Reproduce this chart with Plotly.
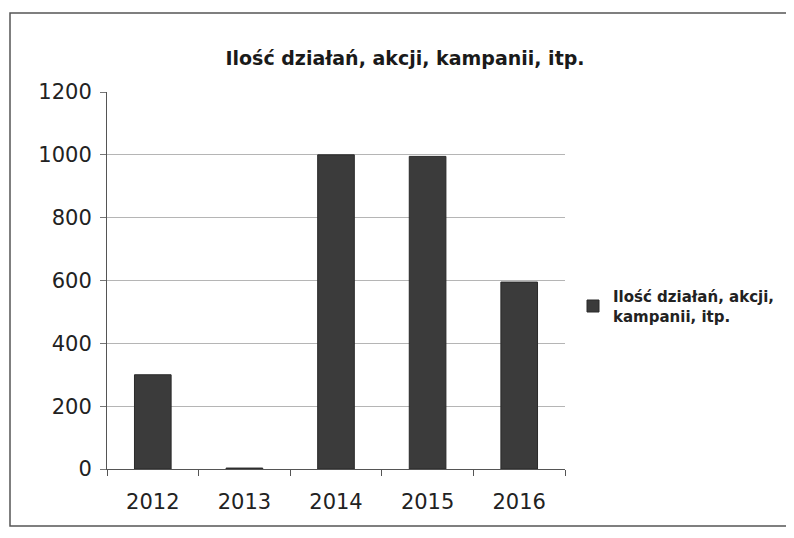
import plotly.graph_objects as go

years = ["2012", "2013", "2014", "2015", "2016"]
values = [300, 3, 1000, 995, 595]
series_name = "<b>Ilość działań, akcji,<br>kampanii, itp.</b>"
title_text = "Ilość działań, akcji, kampanii, itp."

OFF = 8  # page body margin
W, H = 794, 538
# target screen pixels
SL, SR, ST, SB = 107, 565, 92, 469
L = SL - OFF
T = ST - OFF
R = W - (SR - OFF)
B = H - (SB - OFF)
pw = W - L - R
ph = H - T - B

def px_x(p):
    return (p - OFF - L) / pw

def px_y(p):
    return (H - B - (p - OFF)) / ph

FONT = "'DejaVu Sans', sans-serif"

fig = go.Figure()
fig.add_trace(go.Bar(
    x=years, y=values, name=series_name,
    marker=dict(color="#3b3b3b", line=dict(color="#2a2a2a", width=1)),
    showlegend=True,
))

fig.update_layout(
    width=W, height=H,
    margin=dict(l=L, r=R, t=T, b=B),
    paper_bgcolor="white", plot_bgcolor="white",
    bargap=0.6,
    font=dict(family=FONT, color="#222222"),
    title=dict(text="<b>" + title_text + "</b>", x=(405 - OFF) / W, xref="container",
               xanchor="center", y=1 - (58 - OFF) / H, yanchor="middle",
               font=dict(size=19, color="#1a1a1a", family=FONT)),
    xaxis=dict(type="category", showline=True, linecolor="#555555", linewidth=1,
               ticks="outside", tickson="boundaries", ticklen=6, tickcolor="#555555",
               ticklabelstandoff=14,
               tickfont=dict(size=21, color="#222222"), showgrid=False),
    yaxis=dict(range=[0, 1200], dtick=200, showline=True, linecolor="#555555", linewidth=1,
               ticks="outside", ticklen=6, tickcolor="#777777", ticklabelstandoff=4,
               showgrid=True, gridcolor="#b5b5b5", gridwidth=1,
               tickfont=dict(size=21, color="#222222"), zeroline=False),
    legend=dict(x=px_x(573), y=px_y(280), xanchor="left", yanchor="top",
                font=dict(size=15, color="#222222"), bgcolor="rgba(0,0,0,0)",
                itemwidth=30),
    shapes=[dict(type="rect", xref="paper", yref="paper",
                 x0=px_x(10), x1=px_x(805), y0=px_y(526), y1=px_y(13),
                 line=dict(color="#555555", width=1.5), fillcolor="rgba(0,0,0,0)",
                 layer="below")],
)

fig.write_html("out.html")
